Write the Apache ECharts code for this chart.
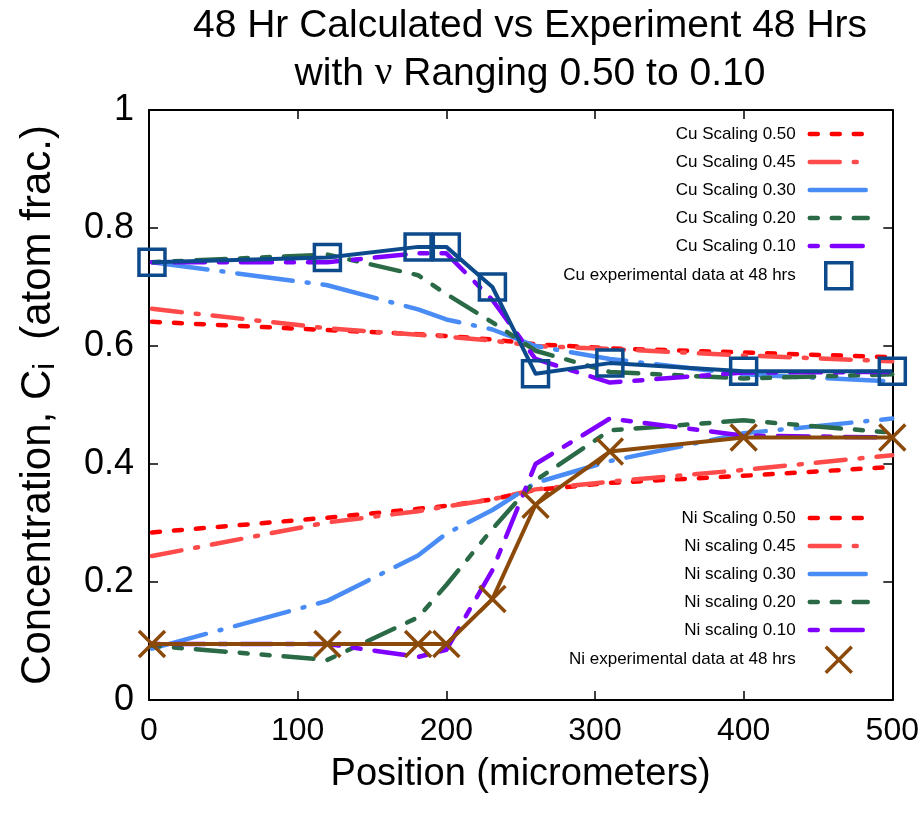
<!DOCTYPE html>
<html>
<head>
<meta charset="utf-8">
<script src="https://cdn.jsdelivr.net/npm/echarts@6/dist/echarts.min.js"></script>
<style>html,body{margin:0;padding:0;background:#fff}#chart{width:922px;height:817px}</style>
</head>
<body>
<div id="chart"></div>
<script>
// Positions (micrometers) at which values were read
const xPos = [2, 120, 181, 200, 231, 260, 310, 400, 500];
const xTicks = [0, 100, 200, 300, 400, 500];
const yTicks = [0, 0.2, 0.4, 0.6, 0.8, 1];

// Cu series
const cu050 = [0.641, 0.627, 0.620, 0.617, 0.611, 0.603, 0.596, 0.589, 0.581];
const cu045 = [0.663, 0.630, 0.619, 0.616, 0.609, 0.600, 0.595, 0.584, 0.574];
const cu030 = [0.742, 0.703, 0.662, 0.645, 0.628, 0.600, 0.578, 0.552, 0.540];
const cu020 = [0.742, 0.755, 0.720, 0.688, 0.640, 0.592, 0.556, 0.545, 0.552];
const cu010 = [0.742, 0.742, 0.757, 0.757, 0.678, 0.578, 0.538, 0.555, 0.556];
const cuExp = [0.742, 0.750, 0.768, 0.768, 0.700, 0.553, 0.571, 0.557, 0.557];

// Ni series
const ni050 = [0.284, 0.309, 0.324, 0.329, 0.340, 0.356, 0.368, 0.380, 0.395];
const ni045 = [0.244, 0.301, 0.320, 0.328, 0.340, 0.357, 0.370, 0.390, 0.415];
const ni030 = [0.087, 0.168, 0.245, 0.282, 0.322, 0.368, 0.405, 0.452, 0.477];
const ni020 = [0.092, 0.068, 0.140, 0.195, 0.290, 0.372, 0.457, 0.474, 0.453];
const ni010 = [0.095, 0.095, 0.073, 0.085, 0.220, 0.400, 0.477, 0.448, 0.445];
const niExp = [0.095, 0.095, 0.095, 0.095, 0.171, 0.331, 0.421, 0.445, 0.445];

const cuNames = ['Cu Scaling 0.50','Cu Scaling 0.45','Cu Scaling 0.30','Cu Scaling 0.20','Cu Scaling 0.10','Cu experimental data at 48 hrs'];
const niNames = ['Ni Scaling 0.50','Ni scaling 0.45','Ni scaling 0.30','Ni scaling 0.20','Ni scaling 0.10','Ni experimental data at 48 hrs'];

const FONT = "'Liberation Sans', Arial, sans-serif";
const C = {
  r50: '#ff0000', r45: '#ff4a4a', b30: '#4a8cf6', g20: '#2b6a47', p10: '#7f00ff',
  cuExp: '#0c4a8c', niExp: '#8b4a0a'
};
const dashes = {
  d50: [8, 14],
  d45: [30, 14, 3, 14],
  d30: [56, 14, 2, 14],
  d20: [8, 14, 8, 14, 30, 14],
  d10: [8, 14, 31, 14]
};
const pts = arr => xPos.map((x, i) => [x, arr[i]]);
function simLine(name, arr, color, dash) {
  return {
    name, type: 'line', data: pts(arr), symbol: 'none', smooth: false,
    xAxisIndex: 0, yAxisIndex: 0,
    lineStyle: { color, width: 4.5, type: dash, cap: 'round', join: 'round' },
    itemStyle: { color }, emphasis: { disabled: true }, silent: true
  };
}
function expLine(name, arr, color, symbol) {
  return {
    name, type: 'line', data: pts(arr), symbol, symbolSize: 26, showAllSymbol: true,
    xAxisIndex: 0, yAxisIndex: 0,
    lineStyle: { color, width: 4, type: 'solid', join: 'round' },
    itemStyle: { color: 'rgba(0,0,0,0)', borderColor: color, borderWidth: 3.5 },
    emphasis: { disabled: true }, silent: true
  };
}
const crossPath = 'path://M0,0L10,10M10,0L0,10';
const squarePath = 'path://M0,0L10,0L10,10L0,10Z';

const series = [
  simLine(cuNames[0], cu050, C.r50, dashes.d50),
  simLine(cuNames[1], cu045, C.r45, dashes.d45),
  simLine(cuNames[2], cu030, C.b30, dashes.d30),
  simLine(cuNames[3], cu020, C.g20, dashes.d20),
  simLine(cuNames[4], cu010, C.p10, dashes.d10),
  expLine(cuNames[5], cuExp, C.cuExp, 'rect'),
  simLine(niNames[0], ni050, C.r50, dashes.d50),
  simLine(niNames[1], ni045, C.r45, dashes.d45),
  simLine(niNames[2], ni030, C.b30, dashes.d30),
  simLine(niNames[3], ni020, C.g20, dashes.d20),
  simLine(niNames[4], ni010, C.p10, dashes.d10),
  expLine(niNames[5], niExp, C.niExp, crossPath)
];

function legendData(names, expColor, expIcon) {
  return names.map((n, i) => i < 5
    ? { name: n, itemStyle: { opacity: 0 } }
    : { name: n, icon: expIcon, itemStyle: { opacity: 1, color: 'rgba(0,0,0,0)', borderColor: expColor, borderWidth: 3.5 } });
}
const legendBase = {
  orient: 'vertical', align: 'right', right: 52, padding: 0,
  itemWidth: 58, itemHeight: 26, itemGap: 2, selectedMode: false,
  textStyle: { fontSize: 17, lineHeight: 26, color: '#000', fontFamily: FONT, padding: [0, 9, 0, 0] },
  lineStyle: { width: 4.5 }
};

const axisCommon = {
  axisLine: { show: true, onZero: false, lineStyle: { color: '#000', width: 2 } },
  axisTick: { show: true, inside: true, length: 9, lineStyle: { color: '#000', width: 1.5 } },
  splitLine: { show: false }
};

const option = {
  backgroundColor: '#fff',
  animation: false,
  title: {
    text: '48 Hr Calculated vs Experiment 48 Hrs\nwith {nu|ν} Ranging 0.50 to 0.10',
    left: 530, top: 2, textAlign: 'center', padding: 0,
    textStyle: {
      fontSize: 39, fontWeight: 'normal', color: '#000', fontFamily: FONT, lineHeight: 48,
      rich: { nu: { fontSize: 39, fontFamily: "'Liberation Serif', serif", color: '#000', lineHeight: 48 } }
    }
  },
  legend: [
    Object.assign({}, legendBase, { top: 121, data: legendData(cuNames, C.cuExp, squarePath) }),
    Object.assign({}, legendBase, { top: 505, data: legendData(niNames, C.niExp, crossPath) })
  ],
  grid: { left: 149, right: 26, top: 110, bottom: 117, containLabel: false },
  xAxis: [
    Object.assign({}, axisCommon, {
      type: 'value', min: xTicks[0], max: xTicks[xTicks.length - 1], interval: 100, position: 'bottom',
      axisLabel: { fontSize: 32, color: '#000', fontFamily: FONT, margin: 15 },
      name: 'Position (micrometers)', nameLocation: 'middle', nameGap: 56,
      nameTextStyle: { fontSize: 38, color: '#000', fontFamily: FONT }
    }),
    Object.assign({}, axisCommon, {
      type: 'value', min: xTicks[0], max: xTicks[xTicks.length - 1], interval: 100, position: 'top',
      axisLabel: { show: false }
    })
  ],
  yAxis: [
    Object.assign({}, axisCommon, {
      type: 'value', min: yTicks[0], max: yTicks[yTicks.length - 1], interval: 0.2, position: 'left',
      axisLabel: { fontSize: 36, color: '#000', fontFamily: FONT, margin: 15 },
      name: '{a|Concentration, C}{s|i}{a|  (atom frac.)}', nameLocation: 'middle', nameGap: 88,
      nameTextStyle: {
        color: '#000', fontFamily: FONT, fontSize: 42,
        rich: {
          a: { fontSize: 42, color: '#000', fontFamily: FONT },
          s: { fontSize: 30, color: '#000', fontFamily: FONT, padding: [16, 0, 0, 0] }
        }
      }
    }),
    Object.assign({}, axisCommon, {
      type: 'value', min: yTicks[0], max: yTicks[yTicks.length - 1], interval: 0.2, position: 'right',
      axisLabel: { show: false }
    })
  ],
  series
};
const chart = echarts.init(document.getElementById('chart'), null, { renderer: 'canvas' });
chart.setOption(option);
</script>
</body>
</html>
